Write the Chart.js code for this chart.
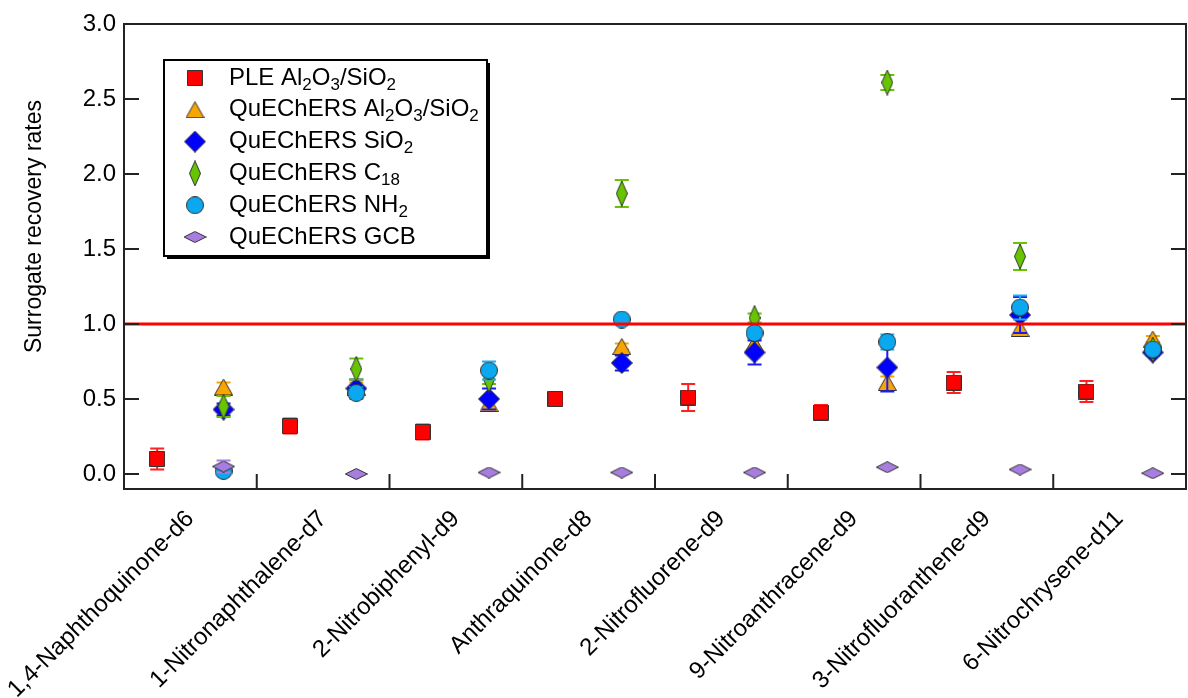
<!DOCTYPE html>
<html>
<head>
<meta charset="utf-8">
<script src="https://cdn.jsdelivr.net/npm/chart.js@4.4.0/dist/chart.umd.min.js"></script>
<style>
  html, body { margin: 0; padding: 0; background: #fff; overflow: hidden; }
  #wrap { width: 1196px; height: 698px; }
</style>
</head>
<body>
<div id="wrap"><canvas id="recoveryChart" width="1196" height="698"></canvas></div>
<script>
// surrogate compounds (x categories)
const compounds = [
    '1,4-Naphthoquinone-d6', '1-Nitronaphthalene-d7', '2-Nitrobiphenyl-d9', 'Anthraquinone-d8',
    '2-Nitrofluorene-d9', '9-Nitroanthracene-d9', '3-Nitrofluoranthene-d9', '6-Nitrochrysene-d11'
];

// series names, _{..} marks a subscript
const seriesNames = [
    'PLE Al_{2}O_{3}/SiO_{2}', 'QuEChERS Al_{2}O_{3}/SiO_{2}', 'QuEChERS SiO_{2}',
    'QuEChERS C_{18}', 'QuEChERS NH_{2}', 'QuEChERS GCB'
];

// recovery rates and errors
const pleAlSi    = [0.10, 0.32, 0.28, 0.50, 0.51, 0.41, 0.61, 0.55];
const pleAlSiErr = [0.07, 0.05, 0.05, 0.02, 0.09, 0.05, 0.07, 0.07];
const qAlSi      = [0.58, 0.58, 0.47, 0.85, 0.87, 0.61, 0.97, 0.90];
const qAlSiErr   = [0.03, 0.03, 0.03, 0.02, 0.03, 0.04, 0.03, 0.02];
const qSi        = [0.43, 0.57, 0.50, 0.74, 0.81, 0.71, 1.06, 0.81];
const qSiErr     = [0.04, 0.06, 0.07, 0.05, 0.08, 0.16, 0.12, 0.02];
const qC18       = [0.45, 0.70, 0.63, 1.87, 1.04, 2.61, 1.45, 0.83];
const qC18Err    = [0.07, 0.07, 0.03, 0.09, 0.03, 0.05, 0.09, 0.02];
const qNH2       = [0.02, 0.54, 0.69, 1.03, 0.94, 0.88, 1.11, 0.83];
const qNH2Err    = [0.02, 0.04, 0.06, 0.01, 0.03, 0.05, 0.08, 0.02];
const qGCB       = [0.05, 0.00, 0.01, 0.01, 0.01, 0.045, 0.03, 0.005];
const qGCBErr    = [0.04, 0.005, 0.005, 0.005, 0.005, 0.005, 0.005, 0.005];

const yTicks = [0, 0.5, 1.0, 1.5, 2.0, 2.5, 3.0];
const refLevel = 1.0;
const yTitle = 'Surrogate recovery rates';

const FONT = "'Liberation Sans', Arial, sans-serif";
Chart.defaults.font.family = FONT;
Chart.defaults.color = '#000';

// marker images
function marker(w, h, drawPath, fill) {
    const c = document.createElement('canvas');
    c.width = w; c.height = h;
    const ctx = c.getContext('2d');
    ctx.beginPath();
    drawPath(ctx, w, h);
    ctx.closePath();
    ctx.fillStyle = fill;
    ctx.fill();
    ctx.lineWidth = 1;
    ctx.strokeStyle = '#333';
    ctx.stroke();
    return c;
}
const diamond = (ctx, w, h) => {
    ctx.moveTo(w / 2, 0.5); ctx.lineTo(w - 0.5, h / 2);
    ctx.lineTo(w / 2, h - 0.5); ctx.lineTo(0.5, h / 2);
};
const markers = [
    marker(16, 16, (ctx, w, h) => ctx.rect(0.5, 0.5, w - 1, h - 1), '#ff0000'),
    marker(19, 17, (ctx, w, h) => { ctx.moveTo(w / 2, 0.5); ctx.lineTo(w - 0.5, h - 0.5); ctx.lineTo(0.5, h - 0.5); }, '#f8a500'),
    marker(22, 22, diamond, '#0000ff'),
    marker(12, 26, diamond, '#66c400'),
    marker(18, 18, (ctx, w, h) => ctx.arc(w / 2, h / 2, w / 2 - 0.5, 0, Math.PI * 2), '#0aa8f0'),
    marker(23, 12, diamond, '#a87de0')
];
const errColors = ['#ff2020', '#f8a500', '#1a1aff', '#66c400', '#1ab0f5', '#a87de0'];

const values = [pleAlSi, qAlSi, qSi, qC18, qNH2, qGCB];
const errors = [pleAlSiErr, qAlSiErr, qSiErr, qC18Err, qNH2Err, qGCBErr];

const datasets = values.map((vals, s) => ({
    type: 'scatter',
    label: seriesNames[s].replace(/_\{(.*?)\}/g, '$1'),
    data: vals.map((v, i) => ({ x: i + (s === 0 ? 0.25 : 0.75), y: v })),
    errors: errors[s],
    errorColor: errColors[s],
    pointStyle: markers[s],
    pointRadius: 9,
    pointHoverRadius: 9,
    order: 6 - s
}));
datasets.push({
    type: 'line',
    label: 'ref',
    data: [{ x: 0, y: refLevel }, { x: compounds.length, y: refLevel }],
    borderColor: '#ff0000',
    borderWidth: 3,
    pointRadius: 0,
    order: 0
});

const errorBars = {
    id: 'errorBars',
    beforeDatasetDraw(chart, args) {
        const ds = chart.data.datasets[args.index];
        if (!ds.errors) return;
        const { ctx, scales: { x, y } } = chart;
        ctx.save();
        ctx.strokeStyle = ds.errorColor;
        ctx.lineWidth = 2;
        ds.data.forEach((p, i) => {
            const e = ds.errors[i];
            const px = x.getPixelForValue(p.x);
            const top = y.getPixelForValue(p.y + e);
            const bot = y.getPixelForValue(p.y - e);
            ctx.beginPath();
            ctx.moveTo(px, top); ctx.lineTo(px, bot);
            ctx.moveTo(px - 7, top); ctx.lineTo(px + 7, top);
            ctx.moveTo(px - 7, bot); ctx.lineTo(px + 7, bot);
            ctx.stroke();
        });
        ctx.restore();
    }
};

const frame = {
    id: 'frame',
    afterDraw(chart) {
        const { ctx, chartArea: a, scales: { x, y } } = chart;
        ctx.save();
        ctx.strokeStyle = '#222';
        ctx.lineWidth = 2;
        ctx.strokeRect(a.left, a.top, a.right - a.left, a.bottom - a.top);
        ctx.beginPath();
        yTicks.forEach(v => {
            const py = y.getPixelForValue(v);
            ctx.moveTo(a.left, py); ctx.lineTo(a.left + 15, py);
            ctx.moveTo(a.right, py); ctx.lineTo(a.right - 15, py);
        });
        for (let i = 1; i < compounds.length; i++) {
            const px = x.getPixelForValue(i);
            ctx.moveTo(px, a.bottom); ctx.lineTo(px, a.bottom - 15);
        }
        ctx.stroke();

        // y axis title, sits a bit above the middle of the axis like the original
        ctx.translate(35, y.getPixelForValue(1.65));
        ctx.rotate(-Math.PI / 2);
        ctx.font = '23px ' + FONT;
        ctx.fillStyle = '#000';
        ctx.textAlign = 'center';
        ctx.textBaseline = 'middle';
        ctx.fillText(yTitle, 0, 0);
        ctx.restore();
    }
};

// legend box with subscripts
function drawRich(ctx, text, x, y) {
    const parts = text.split(/(_\{.*?\})/).filter(Boolean);
    parts.forEach(part => {
        const sub = part.startsWith('_{');
        const t = sub ? part.slice(2, -1) : part;
        ctx.font = (sub ? '17px ' : '24px ') + FONT;
        ctx.fillText(t, x, y + (sub ? 7 : 0));
        x += ctx.measureText(t).width;
    });
}
const legendBox = {
    id: 'legendBox',
    afterDraw(chart) {
        const ctx = chart.ctx;
        const bx = 164, by = 60, bw = 323, bh = 196;
        ctx.save();
        ctx.fillStyle = '#000';
        ctx.fillRect(bx + 3, by + 3, bw, bh);
        ctx.fillStyle = '#fff';
        ctx.fillRect(bx, by, bw, bh);
        ctx.lineWidth = 2;
        ctx.strokeStyle = '#000';
        ctx.strokeRect(bx, by, bw, bh);
        ctx.textBaseline = 'middle';
        ctx.fillStyle = '#000';
        seriesNames.forEach((name, s) => {
            const ry = 78 + s * 31.8;
            const m = markers[s];
            ctx.drawImage(m, 195 - m.width / 2, ry - m.height / 2);
            drawRich(ctx, name, 229, ry);
        });
        ctx.restore();
    }
};

new Chart('recoveryChart', {
    data: { datasets },
    options: {
        responsive: false,
        animation: false,
        layout: { padding: { top: 24, right: 3, left: 0, bottom: 0 } },
        plugins: {
            legend: { display: false },
            tooltip: { enabled: false }
        },
        scales: {
            x: {
                type: 'linear',
                min: 0,
                max: compounds.length,
                afterBuildTicks: scale => {
                    scale.ticks = compounds.map((c, i) => ({ value: i + 0.5 }));
                },
                afterFit: scale => {
                    scale.height = 209;
                    // rotated labels may run past the y axis, that is fine here
                    scale.paddingLeft = 0;
                    scale.paddingRight = 0;
                },
                grid: { display: false, drawTicks: false },
                border: { display: false },
                ticks: {
                    autoSkip: false,
                    maxRotation: 45,
                    minRotation: 45,
                    padding: 16,
                    font: { size: 24 },
                    color: '#000',
                    callback: (v, i) => compounds[i]
                }
            },
            y: {
                min: -0.1,
                max: 3.0,
                afterBuildTicks: scale => {
                    scale.ticks = yTicks.map(v => ({ value: v }));
                },
                afterFit: scale => { scale.width = 124; },
                grid: { display: false, drawTicks: false },
                border: { display: false },
                ticks: {
                    padding: 8,
                    font: { size: 24 },
                    color: '#000',
                    callback: v => v.toFixed(1)
                }
            }
        }
    },
    plugins: [errorBars, frame, legendBox]
});
</script>
</body>
</html>
